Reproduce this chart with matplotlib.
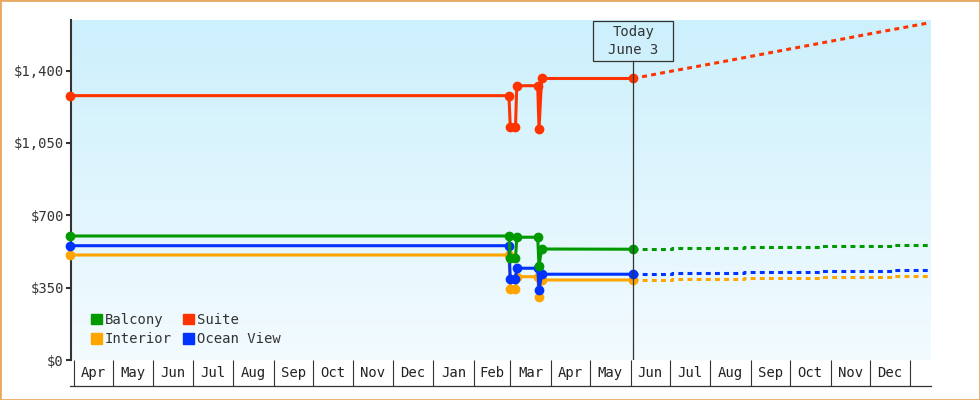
import matplotlib
matplotlib.use('Agg')
import numpy as np
import pandas as pd
import matplotlib.pyplot as plt
import matplotlib.dates as mdates
from matplotlib.colors import LinearSegmentedColormap
from matplotlib.patches import Patch, Rectangle
import matplotlib.transforms as mtransforms

# --- data ---
hist_dates = pd.to_datetime(['2024-03-29', '2025-02-28', '2025-03-01', '2025-03-05', '2025-03-06',
                             '2025-03-22', '2025-03-23', '2025-03-25', '2025-06-03'])
balcony_hist = [600, 600, 492, 492, 594, 594, 456, 537, 536]
suite_hist = [1279, 1279, 1129, 1129, 1327, 1327, 1118, 1362, 1362]
interior_hist = [508, 508, 343, 343, 403, 403, 306, 387, 387]
ocean_hist = [553, 553, 392, 392, 444, 444, 339, 415, 415]

# forecast (dashed) after today
step_dates = pd.to_datetime(['2025-06-03', '2025-07-03', '2025-08-27', '2025-10-25', '2025-12-18', '2026-01-16'])
balcony_fc = [536, 540, 545, 550, 555, 555]
interior_fc = [387, 392, 397, 400, 406, 406]
ocean_fc = [415, 419, 424, 430, 435, 435]
suite_dates = pd.to_datetime(['2025-06-03', '2025-07-01', '2025-08-01', '2025-09-01', '2025-10-01',
                              '2025-11-01', '2025-12-01', '2026-01-16'])
suite_fc = [1362, 1396, 1432, 1469, 1505, 1542, 1578, 1632]

price_ticks = [0, 350, 700, 1050, 1400]
price_labels = ['$0', '$350', '$700', '$1,050', '$1,400']
month_labels = ['Apr', 'May', 'Jun', 'Jul', 'Aug', 'Sep', 'Oct', 'Nov', 'Dec', 'Jan', 'Feb', 'Mar',
                'Apr', 'May', 'Jun', 'Jul', 'Aug', 'Sep', 'Oct', 'Nov', 'Dec']
today = pd.Timestamp('2025-06-03')

colors = {'Balcony': '#009900', 'Suite': '#ff3300', 'Interior': '#ffa500', 'Ocean View': '#0033ff'}

plt.rcParams['font.family'] = ['DejaVu Sans Mono']
plt.rcParams['font.size'] = 10

fig = plt.figure(figsize=(9.8, 4.0), dpi=100)
ax = fig.add_axes([0.0725, 0.1, 0.877, 0.85])

# gradient background
cmap = LinearSegmentedColormap.from_list('bg', ['#f3fbff', '#ccf0fc'])
grad = np.linspace(0, 1, 256).reshape(-1, 1)
ax.imshow(grad, extent=[0, 1, 0, 1], transform=ax.transAxes, aspect='auto',
          cmap=cmap, origin='lower', zorder=0)

series = [('Interior', interior_hist, interior_fc),
          ('Ocean View', ocean_hist, ocean_fc),
          ('Balcony', balcony_hist, balcony_fc)]
for name, hist, fc in series:
    c = colors[name]
    ax.plot(step_dates, fc, color=c, lw=2.2, ls=(0, (1.6, 1.4)), drawstyle='steps-post', zorder=3)
    ax.plot(hist_dates, hist, color=c, lw=2.2, marker='o', ms=6, zorder=4, clip_on=False)

c = colors['Suite']
ax.plot(suite_dates, suite_fc, color=c, lw=2.2, ls=(0, (1.6, 1.4)), zorder=3)
ax.plot(hist_dates, suite_hist, color=c, lw=2.2, marker='o', ms=6, zorder=4, clip_on=False)

ax.set_xlim(pd.Timestamp('2024-03-30'), pd.Timestamp('2026-01-16 12:00'))
ax.set_ylim(0, 1645)

# today line + label box
blend = mtransforms.blended_transform_factory(ax.transData, ax.transAxes)
ax.plot([today, today], [0, 0.88], transform=blend, color='#333333', lw=0.9, zorder=5)
half = pd.Timedelta(days=30.6)
ax.add_patch(Rectangle((mdates.date2num(today - half), 0.88), mdates.date2num(today + half) - mdates.date2num(today - half),
                       0.118, transform=blend, fill=False, ec='#333333', lw=0.9, zorder=5, clip_on=False))
ax.text(today, 0.938, 'Today\nJune 3', transform=blend, ha='center', va='center',
        linespacing=1.3, color='#333333', zorder=6)

# y axis
ax.set_yticks(price_ticks)
ax.set_yticklabels(price_labels)
ax.tick_params(axis='y', direction='out', length=3.6, width=1.5, color='#333333', labelcolor='#333333', pad=1.5)
for s in ['top', 'right', 'bottom']:
    ax.spines[s].set_visible(False)
ax.spines['left'].set_color('#333333')
ax.spines['left'].set_linewidth(1.5)

# month boxes
month_starts = pd.date_range('2024-04-01', '2026-01-01', freq='MS')
mids = [a + (b - a) / 2 for a, b in zip(month_starts[:-1], month_starts[1:])]
ax.set_xticks(month_starts)
ax.set_xticklabels([''] * len(month_starts))
ax.set_xticks(mids, minor=True)
ax.set_xticklabels(month_labels, minor=True)
ax.tick_params(axis='x', which='major', direction='out', length=18.5, width=0.8, color='#333333')
ax.tick_params(axis='x', which='minor', length=0, pad=4, labelcolor='#222222')
ax.plot([-0.001, 1], [-0.075, -0.075], transform=ax.transAxes, color='#333333', lw=0.9, clip_on=False)

# legend
handles = [Patch(color=colors['Balcony'], label='Balcony'),
           Patch(color=colors['Interior'], label='Interior'),
           Patch(color=colors['Suite'], label='Suite'),
           Patch(color=colors['Ocean View'], label='Ocean View')]
ax.legend(handles=handles, ncol=2, loc='lower left', bbox_to_anchor=(0.023, 0.04), frameon=False,
          handlelength=0.8, handleheight=0.8, handletextpad=0.2, columnspacing=0.8,
          labelspacing=0.4, borderpad=0, borderaxespad=0, labelcolor='#333333')

fig.add_artist(Rectangle((0, 0), 1, 1, transform=fig.transFigure, fill=False, ec='#e8a860', lw=2))

fig.savefig('out.png', dpi=100)
